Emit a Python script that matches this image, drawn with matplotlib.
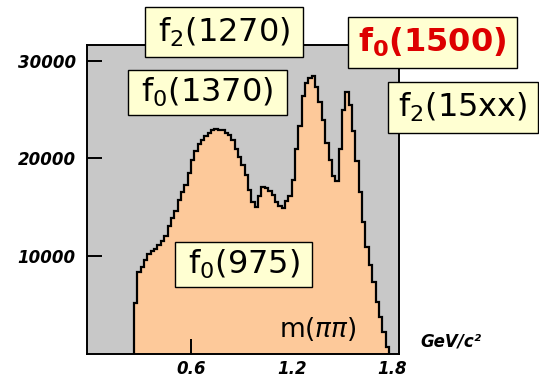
import numpy as np
import matplotlib
matplotlib.use("Agg")
import matplotlib.pyplot as plt
from matplotlib.patches import Rectangle

# histogram of m(pi pi): bin edges (GeV/c^2) and counts
bin_start = 0.26
bin_width = 0.02
counts = [5200, 8400, 8900, 9600, 10200, 10500, 10750, 11100, 11500, 12100,
          13100, 13900, 14600, 15700, 16600, 17300, 18500, 19800, 20800, 21500,
          21900, 22300, 22600, 22900, 23000, 22900, 22900, 22600, 22400, 21900,
          21000, 20200, 19300, 18300, 16800, 15500, 15000, 16200, 17100, 17000,
          16700, 16300, 15500, 15100, 14900, 15600, 16200, 17800, 21000, 23300,
          26400, 27700, 28300, 28500, 27300, 25800, 23900, 21600, 19800, 18200,
          17700, 21000, 25000, 26800, 25500, 22800, 19700, 16600, 13500, 10900,
          9100, 7300, 5300, 3700, 2200, 700]
edges = bin_start + bin_width * np.arange(len(counts) + 1)

x_ticks = [0.6, 1.2, 1.8]
x_ticklabels = ["0.6", "1.2", "1.8"]
y_ticks = [10000, 20000, 30000]
y_ticklabels = ["10000", "20000", "30000"]

W, H = 539, 381
fig = plt.figure(figsize=(W / 100, H / 100), dpi=100)
fig.patch.set_facecolor("white")

ax_l, ax_r, ax_t, ax_b = 87, 399, 45, 353.5
ax = fig.add_axes([ax_l / W, 1 - ax_b / H, (ax_r - ax_l) / W, (ax_b - ax_t) / H])
ax.set_facecolor("#c8c8c8")
ax.stairs(counts, edges, fill=True, color="#fdc99a", baseline=0, zorder=1)
ax.stairs(counts, edges, fill=False, color="black", linewidth=1.6, baseline=0, zorder=2)

ax.set_xlim(-0.02, 1.84)
ax.set_ylim(0, 31640)
ax.set_xticks(x_ticks)
ax.set_xticklabels(x_ticklabels)
ax.set_yticks(y_ticks)
ax.set_yticklabels(y_ticklabels)
ax.tick_params(axis="both", direction="in", length=11, width=1.4, color="black",
               labelsize=12)
ax.tick_params(axis="y", pad=8)
ax.tick_params(axis="x", pad=5)
for t in ax.xaxis.get_major_ticks()[1:]:
    t.tick1line.set_visible(False)
for lab in ax.get_xticklabels() + ax.get_yticklabels():
    lab.set_fontweight("bold")
    lab.set_fontstyle("italic")
for sp in ax.spines.values():
    sp.set_linewidth(1.4)
    sp.set_color("black")

ax.text(0.865, 0.035, r"m($\pi\pi$)", transform=ax.transAxes, ha="right", va="bottom",
        fontsize=19, color="black", zorder=5)
fig.text(420 / W, 1 - 342 / H, "GeV/c²", ha="left", va="center", fontsize=12,
         fontweight="bold", fontstyle="italic")

# label boxes (pixel rectangles: x0, x1, y0, y1)
labels = [
    (r"f$_{2}$(1270)", (145, 303, 7, 57), "black", "normal"),
    (r"f$_{\mathbf{0}}$(1500)", (348, 517, 17, 68), "#dd0000", "bold"),
    (r"f$_{0}$(1370)", (128, 287, 70, 115), "black", "normal"),
    (r"f$_{2}$(15xx)", (388, 538, 82, 133), "black", "normal"),
    (r"f$_{0}$(975)", (175, 312, 242, 287), "black", "normal"),
]
for txt, (x0, x1, y0, y1), col, wt in labels:
    rect = Rectangle((x0 / W, 1 - y1 / H), (x1 - x0) / W, (y1 - y0) / H,
                     transform=fig.transFigure, facecolor="#ffffd2",
                     edgecolor="black", linewidth=1.0, zorder=10)
    fig.patches.append(rect)
    fig.text((x0 + x1) / 2 / W, 1 - (y0 + y1) / 2 / H, txt, ha="center", va="center",
             fontsize=23, color=col, fontweight=wt, zorder=11)

fig.savefig("out.png", dpi=100)
